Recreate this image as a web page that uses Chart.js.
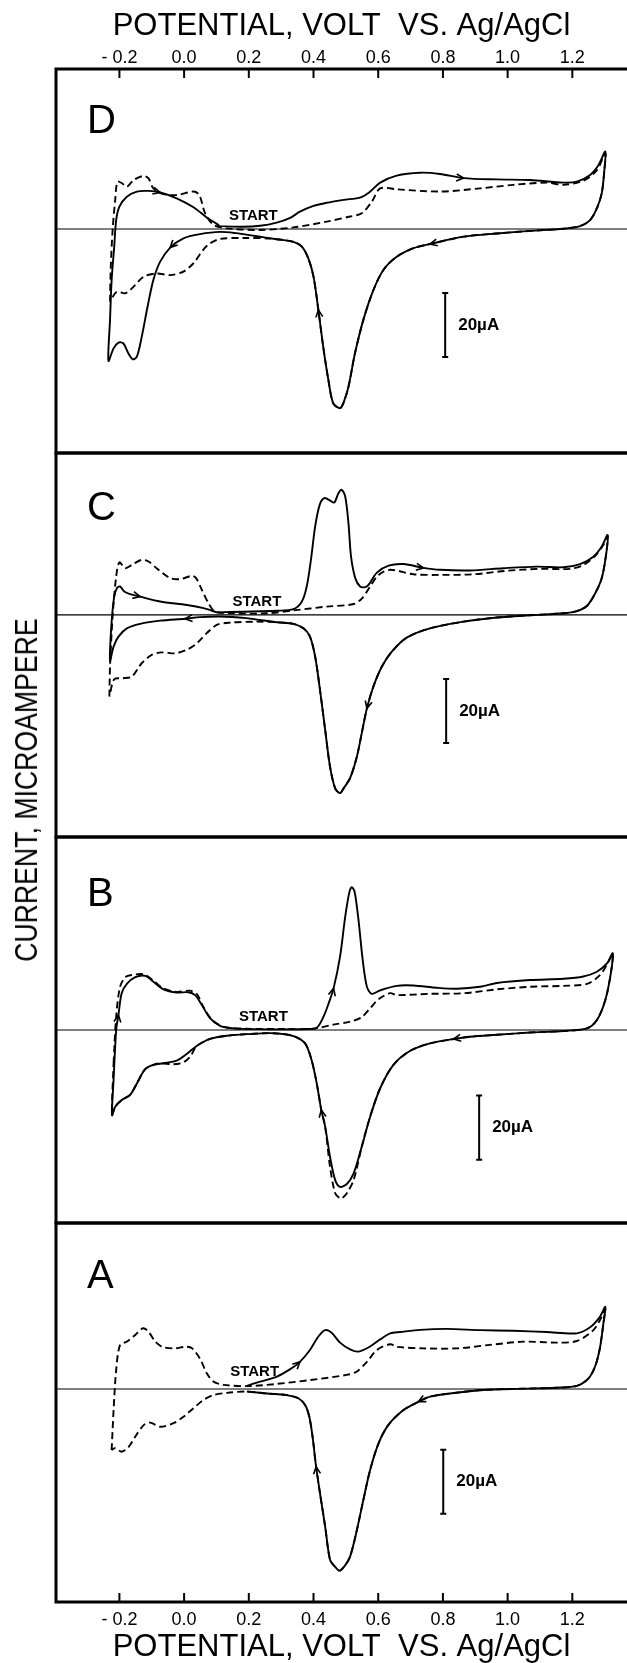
<!DOCTYPE html>
<html>
<head>
<meta charset="utf-8">
<title>Cyclic voltammograms</title>
<script src="https://cdn.jsdelivr.net/npm/chart.js@4.4.1/dist/chart.umd.min.js"></script>
<style>
  html, body { margin: 0; padding: 0; background: #fff; overflow: hidden; }
  #fig { position: relative; width: 627px; height: 1663px; overflow: hidden; }
  .panel { position: absolute; left: 0; width: 627px; }
  #ylab {
    position: absolute; left: 27px; top: 790px;
    transform: translate(-50%, -50%) rotate(-90deg) scaleX(0.86);
    font: 31px "Liberation Sans", Arial, sans-serif; white-space: nowrap; color: #000;
  }
</style>
</head>
<body>
<div id="fig">
  <div class="panel" style="top:0;height:455px"><canvas id="panelD"></canvas></div>
  <div class="panel" style="top:451px;height:388px"><canvas id="panelC"></canvas></div>
  <div class="panel" style="top:835px;height:390px"><canvas id="panelB"></canvas></div>
  <div class="panel" style="top:1221px;height:450px"><canvas id="panelA"></canvas></div>
  <div id="ylab">CURRENT, MICROAMPERE</div>
</div>
<script>
// ---- axes ----
const X_MIN = -0.396, X_MAX = 1.369;
const X_TICKS = [-0.2, 0.0, 0.2, 0.4, 0.6, 0.8, 1.0, 1.2];
const X_TITLE = 'POTENTIAL, VOLT  VS. Ag/AgCl';
const FONT = '"Liberation Sans", Arial, sans-serif';

// ---- curves: [potential V, current µA], in scan order ----
const D_SOLID = [
  [0.11, 0.9], [0.18, 0.7], [0.235, 1.0], [0.286, 2.0], [0.328, 3.5], [0.358, 5.4], [0.40, 7.2], [0.441, 8.2],
  [0.493, 9.1], [0.546, 9.9], [0.575, 11.7], [0.606, 14.5], [0.657, 16.7], [0.73, 17.6], [0.791, 17.2], [0.864, 15.9],
  [0.967, 15.5], [1.069, 15.3], [1.173, 14.5], [1.214, 14.8], [1.255, 16.9], [1.281, 20.0], [1.302, 24.2],
  [1.299, 18.4], [1.291, 11.2], [1.276, 6.5], [1.255, 2.8], [1.224, 0.9], [1.173, 0.1], [1.069, -0.6], [0.967, -1.4],
  [0.864, -2.4], [0.76, -4.7], [0.709, -6.0], [0.657, -8.7], [0.616, -12.8], [0.585, -19.1], [0.554, -28.4],
  [0.528, -38.9], [0.508, -49.3], [0.492, -54.5], [0.482, -56.0], [0.461, -54.5], [0.446, -47.2], [0.43, -36.8],
  [0.415, -25.3], [0.40, -14.9], [0.384, -9.2], [0.364, -5.5], [0.338, -4.0], [0.286, -3.2], [0.22, -2.2],
  [0.16, -1.3], [0.111, -0.9], [0.049, -1.6], [-0.002, -2.9], [-0.043, -5.8], [-0.074, -10.2], [-0.095, -15.9],
  [-0.113, -24.3], [-0.131, -33.7], [-0.146, -39.9], [-0.159, -40.7], [-0.172, -38.9], [-0.188, -35.7],
  [-0.203, -35.5], [-0.218, -37.3], [-0.234, -41.2],
  [-0.229, -28.4], [-0.224, -15.9], [-0.216, -5.5], [-0.21, 2.8], [-0.2, 7.0], [-0.177, 10.1], [-0.146, 11.7],
  [-0.11, 11.9], [-0.074, 11.4], [-0.023, 9.6], [0.029, 6.8], [0.07, 3.6], [0.101, 1.6], [0.11, 0.9]
];
const D_DASHED = [
  [-0.229, -22.7], [-0.227, -12.8], [-0.221, -0.3], [-0.213, 9.1], [-0.206, 14.8], [-0.192, 14.3], [-0.177, 13.2],
  [-0.156, 15.3], [-0.125, 16.6], [-0.11, 15.8], [-0.095, 12.7], [-0.064, 10.9], [-0.023, 10.6], [0.029, 11.7],
  [0.047, 10.6], [0.065, 4.9], [0.091, 1.3], [0.132, 0.2], [0.235, -0.3], [0.338, 0.5], [0.441, 2.3], [0.513, 3.9],
  [0.549, 4.9], [0.58, 8.5], [0.606, 12.7], [0.657, 12.4], [0.791, 11.7], [0.915, 12.7], [1.018, 13.8],
  [1.121, 14.5], [1.173, 13.8], [1.234, 15.1], [1.276, 18.4], [1.302, 23.7],
  [1.299, 18.4], [1.291, 11.2], [1.276, 6.5], [1.255, 2.8], [1.224, 0.9], [1.173, 0.1], [1.069, -0.6], [0.967, -1.4],
  [0.864, -2.4], [0.76, -4.7], [0.709, -6.0], [0.657, -8.7], [0.616, -12.8], [0.585, -19.1], [0.554, -28.4],
  [0.528, -38.9], [0.508, -49.3], [0.492, -54.5], [0.482, -56.0], [0.461, -54.5], [0.446, -47.2], [0.43, -36.8],
  [0.415, -25.3], [0.40, -14.9], [0.384, -9.2], [0.364, -5.5], [0.338, -4.0],
  [0.267, -3.0], [0.183, -2.8], [0.111, -3.1], [0.08, -4.5], [0.059, -6.5], [0.029, -10.7], [-0.002, -13.3],
  [-0.043, -14.4], [-0.085, -13.9], [-0.125, -14.9], [-0.156, -18.0], [-0.182, -20.1], [-0.208, -19.6], [-0.229, -22.7]
];

const C_SOLID = [
  [0.101, 0.8], [0.184, 1.0], [0.287, 1.3], [0.338, 1.8], [0.364, 4.2], [0.379, 8.9], [0.392, 17.2], [0.405, 27.6],
  [0.419, 34.4], [0.433, 36.5], [0.449, 35.9], [0.464, 35.1], [0.477, 38.0], [0.487, 39.1], [0.498, 37.0],
  [0.508, 28.7], [0.516, 18.2], [0.529, 11.5], [0.544, 8.9], [0.56, 8.7], [0.57, 9.4], [0.596, 13.2], [0.632, 15.4],
  [0.678, 15.9], [0.74, 14.7], [0.791, 14.1], [0.884, 13.9], [0.987, 14.6], [1.09, 15.1], [1.173, 14.9],
  [1.224, 15.9], [1.265, 18.2], [1.291, 21.4], [1.309, 25.0],
  [1.305, 19.3], [1.291, 11.5], [1.27, 6.6], [1.245, 2.8], [1.214, 1.2], [1.173, 0.5], [1.069, -0.1], [0.967, -0.8],
  [0.864, -2.1], [0.76, -4.2], [0.688, -7.1], [0.642, -11.5], [0.611, -16.2], [0.585, -22.4], [0.565, -29.2],
  [0.549, -37.0], [0.534, -44.3], [0.513, -51.0], [0.493, -54.2], [0.482, -55.7], [0.467, -54.2], [0.451, -47.4],
  [0.436, -35.9], [0.42, -23.4], [0.405, -13.0], [0.389, -6.8], [0.369, -4.2], [0.338, -2.8], [0.287, -2.3],
  [0.235, -1.6], [0.193, -1.0], [0.111, -0.5], [0.049, -0.7], [0.003, -1.2], [-0.074, -1.8], [-0.136, -2.8],
  [-0.177, -4.2], [-0.203, -6.8], [-0.218, -9.9], [-0.229, -14.3],
  [-0.227, -6.8], [-0.222, 0.5], [-0.216, 5.7], [-0.208, 8.3], [-0.198, 8.9], [-0.185, 7.3], [-0.167, 6.5],
  [-0.136, 5.7], [-0.074, 4.2], [0.009, 3.1], [0.06, 2.1], [0.101, 0.8]
];
const C_DASHED = [
  [-0.231, -25.5], [-0.229, -16.1], [-0.221, -0.5], [-0.21, 12.0], [-0.2, 16.4], [-0.182, 14.6], [-0.162, 15.6],
  [-0.131, 17.2], [-0.11, 16.7], [-0.085, 14.6], [-0.043, 11.5], [-0.012, 11.2], [0.024, 12.2], [0.037, 11.5],
  [0.055, 7.8], [0.075, 3.7], [0.096, 1.0], [0.153, 0.5], [0.256, 0.5], [0.338, 1.4], [0.441, 2.6], [0.524, 3.4],
  [0.55, 5.2], [0.575, 8.9], [0.601, 12.5], [0.637, 14.1], [0.709, 12.7], [0.791, 12.5], [0.894, 12.7],
  [0.997, 13.8], [1.1, 14.4], [1.193, 14.4], [1.234, 15.6], [1.27, 18.4], [1.296, 21.9], [1.309, 24.7],
  [1.305, 19.3], [1.291, 11.5], [1.27, 6.6], [1.245, 2.8], [1.214, 1.2], [1.173, 0.5], [1.069, -0.1], [0.967, -0.8],
  [0.864, -2.1], [0.76, -4.2], [0.688, -7.1], [0.642, -11.5], [0.611, -16.2], [0.585, -22.4], [0.565, -29.2],
  [0.549, -37.0], [0.534, -44.3], [0.513, -51.0], [0.493, -54.2], [0.482, -55.7], [0.467, -54.2], [0.451, -47.4],
  [0.436, -35.9], [0.42, -23.4], [0.405, -13.0], [0.389, -6.8], [0.369, -4.2], [0.338, -2.8], [0.287, -2.3],
  [0.224, -2.1], [0.142, -2.4], [0.101, -3.1], [0.07, -5.7], [0.039, -8.9], [0.008, -10.9], [-0.028, -12.0],
  [-0.069, -11.7], [-0.1, -12.5], [-0.131, -15.1], [-0.162, -19.3], [-0.192, -19.8], [-0.216, -20.1], [-0.231, -25.5]
];

const B_SOLID = [
  [0.194, 0.3], [0.286, 0.2], [0.379, 0.3], [0.41, 0.7], [0.431, 4.2], [0.446, 8.1], [0.462, 13.0], [0.482, 22.9],
  [0.498, 35.4], [0.51, 42.7], [0.518, 44.6], [0.527, 43.2], [0.539, 34.4], [0.552, 21.9], [0.565, 13.5],
  [0.58, 11.3], [0.606, 12.4], [0.657, 13.8], [0.709, 13.9], [0.781, 13.2], [0.843, 12.9], [0.915, 13.5],
  [0.967, 14.7], [1.069, 15.6], [1.173, 16.0], [1.234, 16.7], [1.276, 18.2], [1.307, 20.8], [1.325, 24.0],
  [1.319, 17.7], [1.302, 9.4], [1.276, 3.1], [1.245, 0.5], [1.173, -0.3], [1.069, -0.8], [0.967, -1.5],
  [0.884, -2.1], [0.833, -2.8], [0.76, -4.2], [0.699, -6.5], [0.647, -10.9], [0.606, -18.2], [0.575, -27.1],
  [0.549, -36.5], [0.524, -44.8], [0.503, -48.1], [0.482, -49.0], [0.467, -46.9], [0.451, -39.6], [0.436, -30.2],
  [0.424, -25.0], [0.41, -16.7], [0.394, -9.4], [0.374, -4.2], [0.338, -1.9], [0.276, -1.0], [0.194, -1.3],
  [0.132, -1.8], [0.08, -2.8], [0.039, -5.0], [0.008, -7.5], [-0.023, -9.6], [-0.064, -10.4], [-0.095, -10.9],
  [-0.121, -12.3], [-0.146, -16.7], [-0.167, -20.3], [-0.193, -21.9], [-0.213, -24.0], [-0.223, -26.6],
  [-0.218, -15.6], [-0.21, 0.0], [-0.203, 4.7], [-0.193, 11.5], [-0.177, 14.4], [-0.151, 16.5], [-0.12, 16.9],
  [-0.095, 15.1], [-0.064, 12.7], [-0.023, 11.7], [0.013, 11.8], [0.034, 10.9], [0.055, 7.8], [0.08, 3.7],
  [0.111, 1.3], [0.153, 0.5], [0.194, 0.3]
];
const B_DASHED = [
  [-0.218, -10.4], [-0.21, 4.2], [-0.198, 13.5], [-0.182, 16.5], [-0.162, 17.2], [-0.125, 17.4], [-0.095, 15.4],
  [-0.064, 13.0], [-0.023, 11.9], [0.018, 12.3], [0.039, 11.3], [0.059, 7.3], [0.085, 3.3], [0.122, 1.0],
  [0.194, 0.4], [0.317, 0.3], [0.40, 0.4], [0.462, 1.7], [0.513, 2.6], [0.549, 4.0], [0.575, 6.8], [0.601, 9.6],
  [0.637, 11.5], [0.657, 10.9], [0.76, 11.3], [0.864, 11.5], [0.967, 12.7], [1.069, 13.5], [1.173, 13.8],
  [1.245, 14.4], [1.286, 17.2], [1.312, 21.4], [1.325, 23.8],
  [1.319, 17.7], [1.302, 9.4], [1.276, 3.1], [1.245, 0.5], [1.173, -0.3], [1.069, -0.8], [0.967, -1.5],
  [0.884, -2.1], [0.833, -2.8], [0.76, -4.2], [0.699, -6.5], [0.647, -10.9], [0.606, -18.2], [0.575, -27.1],
  [0.549, -36.5], [0.524, -46.9], [0.503, -51.0], [0.488, -52.6], [0.482, -52.6], [0.467, -51.0], [0.451, -42.7],
  [0.436, -30.2], [0.424, -25.0], [0.41, -16.7], [0.394, -9.4], [0.374, -4.2], [0.338, -1.9], [0.276, -1.0],
  [0.194, -1.3], [0.132, -1.8], [0.08, -2.8], [0.039, -5.0], [0.019, -8.3], [-0.002, -10.1], [-0.033, -10.7],
  [-0.074, -10.4], [-0.095, -10.9], [-0.121, -12.3], [-0.146, -16.7], [-0.167, -20.3], [-0.193, -21.9],
  [-0.213, -24.0], [-0.223, -26.6], [-0.218, -10.4]
];

const A_SOLID = [
  [0.194, 1.0], [0.235, 2.3], [0.287, 3.9], [0.328, 6.2], [0.358, 8.5], [0.389, 12.2], [0.415, 16.4], [0.436, 18.4],
  [0.456, 17.6], [0.482, 14.5], [0.513, 12.4], [0.539, 11.7], [0.575, 13.3], [0.606, 15.5], [0.637, 17.4],
  [0.668, 17.8], [0.73, 18.5], [0.812, 18.8], [0.915, 18.4], [1.018, 18.2], [1.121, 17.8], [1.214, 17.4],
  [1.255, 19.3], [1.284, 22.4], [1.302, 25.7],
  [1.296, 20.5], [1.286, 13.2], [1.272, 7.5], [1.25, 3.3], [1.214, 1.0], [1.152, 0.4], [1.049, 0.1], [0.925, -0.3],
  [0.822, -1.4], [0.76, -2.4], [0.724, -4.0], [0.678, -6.6], [0.631, -11.3], [0.601, -17.0], [0.575, -25.3],
  [0.554, -34.7], [0.534, -44.1], [0.513, -52.4], [0.495, -55.5], [0.48, -56.8], [0.466, -55.5], [0.451, -53.4],
  [0.436, -43.0], [0.42, -32.6], [0.408, -24.3], [0.397, -14.9], [0.387, -8.7], [0.374, -5.0], [0.353, -2.9],
  [0.317, -1.9], [0.256, -1.4], [0.194, -0.8]
];
const A_DASHED = [
  [-0.224, -19.1], [-0.218, -6.6], [-0.21, 5.9], [-0.198, 13.8], [-0.177, 14.8], [-0.151, 16.9], [-0.127, 19.0],
  [-0.11, 17.9], [-0.089, 14.8], [-0.068, 13.2], [-0.032, 12.7], [0.005, 13.2], [0.025, 12.7], [0.051, 9.1],
  [0.07, 4.9], [0.091, 2.3], [0.122, 1.3], [0.194, 0.9], [0.287, 1.6], [0.389, 2.8], [0.502, 4.4], [0.533, 5.4],
  [0.565, 8.5], [0.596, 12.2], [0.637, 14.0], [0.657, 13.2], [0.74, 12.7], [0.843, 12.7], [0.946, 13.8],
  [1.049, 14.8], [1.152, 14.5], [1.214, 15.0], [1.265, 18.4], [1.291, 22.6], [1.302, 25.2],
  [1.296, 20.5], [1.286, 13.2], [1.272, 7.5], [1.25, 3.3], [1.214, 1.0], [1.152, 0.4], [1.049, 0.1], [0.925, -0.3],
  [0.822, -1.4], [0.76, -2.4], [0.724, -4.0], [0.678, -6.6], [0.631, -11.3], [0.601, -17.0], [0.575, -25.3],
  [0.554, -34.7], [0.534, -44.1], [0.513, -52.4], [0.495, -55.5], [0.48, -56.8], [0.466, -55.5], [0.451, -53.4],
  [0.436, -43.0], [0.42, -32.6], [0.408, -24.3], [0.397, -14.9], [0.387, -8.7], [0.374, -5.0], [0.353, -2.9],
  [0.317, -1.9], [0.256, -1.4], [0.194, -0.8],
  [0.132, -1.2], [0.091, -1.9], [0.06, -3.4], [0.029, -6.0], [-0.002, -8.7], [-0.033, -10.7], [-0.074, -11.8],
  [-0.105, -10.5], [-0.125, -11.3], [-0.151, -14.9], [-0.172, -18.2], [-0.193, -19.6], [-0.213, -18.5], [-0.224, -19.1]
];

// scan-direction arrows sit on the solid trace
const D_ARROWS = [[-0.074, 11.4], [-0.043, -5.8], [0.415, -25.3], [0.864, 15.9], [0.76, -4.7]];
const C_ARROWS = [[-0.136, 5.7], [0.003, -1.2], [0.74, 14.7], [0.565, -29.2]];
const B_ARROWS = [[-0.203, 4.7], [0.424, -25.0], [0.462, 13.0], [0.833, -2.8]];
const A_ARROWS = [[0.358, 8.5], [0.408, -24.3], [0.724, -4.0]];

// "START" marks and 20 µA bars: [V, µA] / [V, top µA, bottom µA]
const START_AT = { D: [0.214, 4.2], C: [0.225, 4.2], B: [0.245, 4.2], A: [0.218, 5.4] };
const BAR_AT = { D: [0.807, -20, -40], C: [0.81, -20, -40], B: [0.912, -20.5, -40.5], A: [0.801, -19, -39] };

function tickText(v) {
  return (v < 0 ? '- ' : '') + Math.abs(v).toFixed(1);
}

function arrowHead(ctx, x, y, ang) {
  const len = 8, spread = 0.45;
  ctx.beginPath();
  ctx.moveTo(x - len * Math.cos(ang - spread), y - len * Math.sin(ang - spread));
  ctx.lineTo(x, y);
  ctx.lineTo(x - len * Math.cos(ang + spread), y - len * Math.sin(ang + spread));
  ctx.stroke();
}

function trace(pts, dashed) {
  return {
    data: pts.map(([v, i]) => ({ x: v, y: i })),
    showLine: true,
    borderColor: '#000',
    borderWidth: 1.9,
    borderDash: dashed ? [7, 4] : [],
    pointRadius: 0,
    tension: 0.3,
    fill: false
  };
}

function makePanel(id, cfg) {
  const deco = {
    id: 'deco',
    afterDatasetsDraw(chart) {
      const { ctx, chartArea: a, scales: { x, y } } = chart;
      ctx.save();
      ctx.strokeStyle = '#000';
      ctx.fillStyle = '#000';
      ctx.setLineDash([]);

      // frame
      ctx.lineWidth = 3;
      ctx.beginPath();
      ctx.moveTo(a.left, a.top); ctx.lineTo(a.right, a.top);
      ctx.moveTo(a.left, a.bottom); ctx.lineTo(a.right, a.bottom);
      ctx.moveTo(a.left, a.top - 1.5); ctx.lineTo(a.left, a.bottom + 1.5);
      ctx.stroke();

      // tick marks point into the box
      if (cfg.axis) {
        ctx.lineWidth = 2;
        const y0 = cfg.axis === 'top' ? a.top : a.bottom;
        const dir = cfg.axis === 'top' ? 1 : -1;
        X_TICKS.forEach(v => {
          const px = x.getPixelForValue(v);
          ctx.beginPath();
          ctx.moveTo(px, y0);
          ctx.lineTo(px, y0 + dir * 9);
          ctx.stroke();
        });
      }

      // arrows: snap to the nearest vertex, point along the scan
      ctx.lineWidth = 1.6;
      const pts = cfg.solid.map(([v, i]) => [x.getPixelForValue(v), y.getPixelForValue(i)]);
      cfg.arrows.forEach(([v, i]) => {
        const px = x.getPixelForValue(v), py = y.getPixelForValue(i);
        let k = 0, best = Infinity;
        pts.forEach(([qx, qy], n) => {
          const d = Math.hypot(qx - px, qy - py);
          if (d < best) { best = d; k = n; }
        });
        const p0 = pts[Math.max(k - 1, 0)], p1 = pts[Math.min(k + 1, pts.length - 1)];
        arrowHead(ctx, pts[k][0], pts[k][1], Math.atan2(p1[1] - p0[1], p1[0] - p0[0]));
      });

      // START label
      ctx.font = 'bold 15px ' + FONT;
      ctx.textAlign = 'center';
      ctx.textBaseline = 'middle';
      ctx.fillText('START', x.getPixelForValue(cfg.start[0]), y.getPixelForValue(cfg.start[1]));

      // 20 µA scale bar
      const bx = x.getPixelForValue(cfg.bar[0]);
      const bt = y.getPixelForValue(cfg.bar[1]), bb = y.getPixelForValue(cfg.bar[2]);
      ctx.lineWidth = 2;
      ctx.beginPath();
      ctx.moveTo(bx, bt); ctx.lineTo(bx, bb);
      ctx.moveTo(bx - 3, bt); ctx.lineTo(bx + 3, bt);
      ctx.moveTo(bx - 3, bb); ctx.lineTo(bx + 3, bb);
      ctx.stroke();
      ctx.font = 'bold 17px ' + FONT;
      ctx.textAlign = 'left';
      ctx.fillText('20µA', bx + 13, (bt + bb) / 2);

      // panel letter
      ctx.font = '40px ' + FONT;
      ctx.textBaseline = 'alphabetic';
      ctx.fillText(cfg.letter, a.left + 31, a.top + cfg.letterDy);
      ctx.restore();
    }
  };

  const xAxis = {
    type: 'linear',
    min: X_MIN,
    max: X_MAX,
    display: !!cfg.axis,
    position: cfg.axis || 'bottom',
    grid: { display: false, drawTicks: false },
    border: { display: false },
    afterBuildTicks: s => { s.ticks = X_TICKS.map(v => ({ value: v })); },
    ticks: {
      color: '#000',
      font: { family: FONT, size: 18 },
      padding: cfg.axis === 'top' ? 0 : 7,
      maxRotation: 0,
      autoSkip: false,
      callback: v => tickText(v)
    },
    title: {
      display: true,
      text: X_TITLE,
      color: '#000',
      font: { family: FONT, size: 31 },
      padding: cfg.axis === 'top' ? { top: 8, bottom: 0 } : { top: 0, bottom: 5 }
    }
  };
  if (cfg.axis) {
    xAxis.afterFit = s => { s.height = 69; s.paddingLeft = 0; s.paddingRight = 0; };
  }

  return new Chart(document.getElementById(id), {
    type: 'scatter',
    data: {
      datasets: [
        { data: [{ x: X_MIN, y: 0 }, { x: X_MAX, y: 0 }], showLine: true, borderColor: '#000', borderWidth: 1.2, pointRadius: 0 },
        trace(cfg.dashed, true),
        trace(cfg.solid, false)
      ]
    },
    options: {
      responsive: true,
      maintainAspectRatio: false,
      animation: false,
      devicePixelRatio: 1,
      layout: { padding: { left: 56, right: 0, top: cfg.axis === 'top' ? 0 : 2, bottom: cfg.axis === 'bottom' ? 0 : 2 } },
      plugins: { legend: { display: false }, tooltip: { enabled: false } },
      scales: {
        x: xAxis,
        y: { type: 'linear', min: cfg.range[0], max: cfg.range[1], display: false }
      }
    },
    plugins: [deco]
  });
}

makePanel('panelD', { letter: 'D', letterDy: 64, axis: 'top', range: [-70, 50], solid: D_SOLID, dashed: D_DASHED, arrows: D_ARROWS, start: START_AT.D, bar: BAR_AT.D });
makePanel('panelC', { letter: 'C', letterDy: 67, axis: null, range: [-69.4, 50.6], solid: C_SOLID, dashed: C_DASHED, arrows: C_ARROWS, start: START_AT.C, bar: BAR_AT.C });
makePanel('panelB', { letter: 'B', letterDy: 69, axis: null, range: [-60.3, 60.3], solid: B_SOLID, dashed: B_DASHED, arrows: B_ARROWS, start: START_AT.B, bar: BAR_AT.B });
makePanel('panelA', { letter: 'A', letterDy: 65, axis: 'bottom', range: [-66.6, 51.9], solid: A_SOLID, dashed: A_DASHED, arrows: A_ARROWS, start: START_AT.A, bar: BAR_AT.A });
</script>
</body>
</html>
